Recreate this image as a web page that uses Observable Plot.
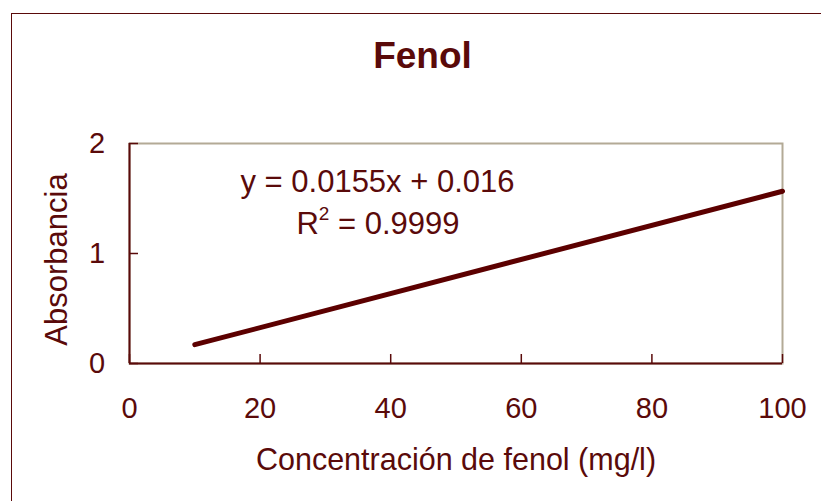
<!DOCTYPE html>
<html>
<head>
<meta charset="utf-8">
<script src="https://cdn.jsdelivr.net/npm/d3@7"></script>
<script src="https://cdn.jsdelivr.net/npm/@observablehq/plot@0.6"></script>
<style>
  html, body { margin: 0; padding: 0; background: #fff; overflow: hidden; width: 821px; height: 501px; }
  #frame { position: absolute; left: 11px; top: 13px; width: 900px; height: 600px; border: 1.5px solid #5a0a0a; box-sizing: border-box; }
  #chart { position: absolute; left: 0; top: 0; }
</style>
</head>
<body>
<div id="frame"></div>
<div id="chart"></div>
<script>
// Data
const concentration = [10, 100];          // mg/l (trendline extent)
const absorbance = [0.171, 1.566];
const xTicks = [0, 20, 40, 60, 80, 100];
const yTicks = [0, 1, 2];
const title = "Fenol";
const xLabel = "Concentración de fenol (mg/l)";
const yLabel = "Absorbancia";
const equation = "y = 0.0155x + 0.016";
const r2Base = "R";
const r2Sup = "2";
const r2Value = " = 0.9999";
const r2 = r2Base + r2Sup + r2Value;

const maroon = "#5a0a0a";
const lineColor = "#5c0000";
const tan = "#b3aa96";
const font = "Liberation Sans, Arial, sans-serif";

const data = concentration.map((x, i) => ({x, y: absorbance[i]}));

const plot = Plot.plot({
  width: 821,
  height: 501,
  marginLeft: 129,
  marginRight: 39,
  marginTop: 143,
  marginBottom: 138,
  style: {fontFamily: font, background: "transparent", overflow: "visible"},
  x: {domain: [0, 100]},
  y: {domain: [0, 2]},
  marks: [
    Plot.frame({stroke: tan, strokeWidth: 2}),
    Plot.ruleX([0], {stroke: maroon, strokeWidth: 2}),
    Plot.ruleY([0], {stroke: maroon, strokeWidth: 2}),
    Plot.axisX({ticks: xTicks, tickSize: 9, dy: -9, tickFormat: () => "", stroke: maroon, strokeWidth: 1.5, label: null}),
    Plot.axisY({ticks: yTicks, tickSize: 9, dx: 9, tickFormat: () => "", stroke: maroon, strokeWidth: 1.5, label: null}),
    Plot.text(xTicks, {x: d => d, frameAnchor: "bottom", dy: 45.5, lineAnchor: "middle", textAnchor: "middle", text: d => String(d), fill: maroon, fontSize: 29}),
    Plot.text(yTicks, {y: d => d, frameAnchor: "left", dx: -32.5, lineAnchor: "middle", textAnchor: "middle", text: d => String(d), fill: maroon, fontSize: 29}),
    Plot.line(data, {x: "x", y: "y", stroke: lineColor, strokeWidth: 5, strokeLinecap: "round"}),
    Plot.text([equation], {frameAnchor: "top-left", dx: 248, dy: 39, lineAnchor: "middle", textAnchor: "middle", fill: maroon, fontSize: 31}),
    Plot.text([r2], {frameAnchor: "top-left", dx: 248.5, dy: 80.5, lineAnchor: "middle", textAnchor: "middle", fill: maroon, fontSize: 31}),
    Plot.text([title], {frameAnchor: "top", dx: -33.5, dy: -87.5, lineAnchor: "middle", textAnchor: "middle", fill: maroon, fontSize: 37, fontWeight: "bold"}),
    Plot.text([xLabel], {frameAnchor: "bottom", dy: 96.5, lineAnchor: "middle", textAnchor: "middle", fill: maroon, fontSize: 30.5}),
    Plot.text([yLabel], {frameAnchor: "left", dx: -72, dy: 6, rotate: -90, lineAnchor: "middle", textAnchor: "middle", fill: maroon, fontSize: 31})
  ]
});
// Render the superscript of R² as a real raised tspan
d3.select(plot).selectAll("text").filter(function () { return this.textContent === r2; })
  .each(function () {
    const t = d3.select(this);
    t.text(null);
    t.append("tspan").text(r2Base);
    t.append("tspan").attr("dy", -14).attr("font-size", 19).text(r2Sup);
    t.append("tspan").attr("dy", 14).text(r2Value);
  });
document.getElementById("chart").appendChild(plot);
</script>
</body>
</html>
